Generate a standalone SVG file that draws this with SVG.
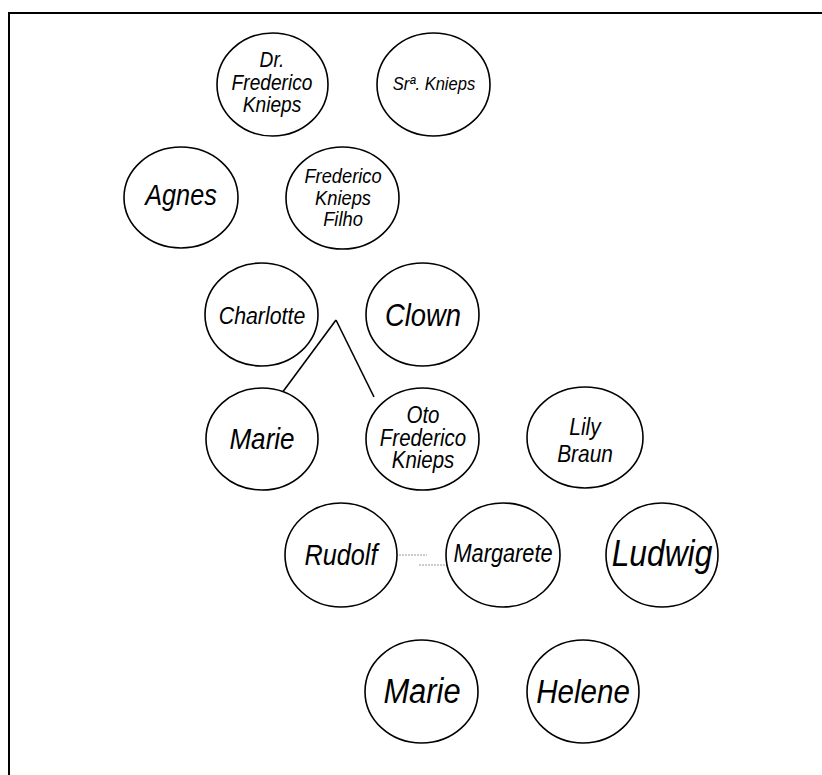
<svg xmlns="http://www.w3.org/2000/svg" width="822" height="775" viewBox="0 0 822 775">
<style>
.n ellipse{fill:#fff;stroke:#000;stroke-width:1.6}
.n text{font-family:"Liberation Sans",Arial,sans-serif;font-style:italic;fill:#000;text-anchor:middle}
.frame{fill:none;stroke:#000;stroke-width:2}
.c line{stroke:#000;stroke-width:1.6}
.c .d{stroke:#999;stroke-width:1;stroke-dasharray:2 1}
</style>
<rect width="822" height="775" fill="#fff"/>
<polyline class="frame" points="9,775 9,13 822,13"/>
<g class="c" id="connectors">
<line x1="336" y1="320" x2="279" y2="397"/>
<line x1="336" y1="320" x2="374" y2="397"/>
<line class="d" x1="396" y1="555" x2="427" y2="555"/>
<line class="d" x1="419" y1="565" x2="448" y2="565"/>
</g>
<g class="n" id="dr-frederico-knieps"><ellipse cx="272.5" cy="84.5" rx="55.5" ry="51.5"/><text transform="translate(272,0) scale(0.87,1)" font-size="22"><tspan x="0" y="67">Dr.</tspan><tspan x="0" y="90">Frederico</tspan><tspan x="0" y="112">Knieps</tspan></text></g>
<g class="n" id="sra-knieps"><ellipse cx="433.5" cy="84.5" rx="56.5" ry="51.5"/><text transform="translate(434,90) scale(0.87,1)" font-size="19">Srª. Knieps</text></g>
<g class="n" id="agnes"><ellipse cx="181" cy="197.5" rx="57" ry="50.5"/><text transform="translate(181,205) scale(0.87,1)" font-size="29">Agnes</text></g>
<g class="n" id="frederico-knieps-filho"><ellipse cx="342.5" cy="198" rx="56.5" ry="51"/><text transform="translate(343,0) scale(0.87,1)" font-size="21"><tspan x="0" y="183">Frederico</tspan><tspan x="0" y="205">Knieps</tspan><tspan x="0" y="226">Filho</tspan></text></g>
<g class="n" id="charlotte"><ellipse cx="261.5" cy="314.5" rx="56.5" ry="51.5"/><text transform="translate(262,324) scale(0.87,1)" font-size="24.5">Charlotte</text></g>
<g class="n" id="clown"><ellipse cx="422.5" cy="314.5" rx="56.5" ry="51.5"/><text transform="translate(423,326) scale(0.87,1)" font-size="31.5">Clown</text></g>
<g class="n" id="marie-1"><ellipse cx="262" cy="439" rx="56" ry="51"/><text transform="translate(262,449) scale(0.87,1)" font-size="30">Marie</text></g>
<g class="n" id="oto-frederico-knieps"><ellipse cx="422.5" cy="439" rx="56.5" ry="51"/><text transform="translate(423,0) scale(0.87,1)" font-size="23.5"><tspan x="0" y="423">Oto</tspan><tspan x="0" y="446">Frederico</tspan><tspan x="0" y="468">Knieps</tspan></text></g>
<g class="n" id="lily-braun"><ellipse cx="585" cy="437.5" rx="58" ry="50.5"/><text transform="translate(585,0) scale(0.87,1)" font-size="24"><tspan x="0" y="435">Lily</tspan><tspan x="0" y="462">Braun</tspan></text></g>
<g class="n" id="rudolf"><ellipse cx="341" cy="555" rx="56" ry="52"/><text transform="translate(341,565) scale(0.87,1)" font-size="29">Rudolf</text></g>
<g class="n" id="margarete"><ellipse cx="503" cy="555" rx="57" ry="52"/><text transform="translate(503,562) scale(0.87,1)" font-size="25">Margarete</text></g>
<g class="n" id="ludwig"><ellipse cx="662" cy="555" rx="56" ry="52"/><text transform="translate(662,566) scale(0.87,1)" font-size="36.5">Ludwig</text></g>
<g class="n" id="marie-2"><ellipse cx="421.5" cy="691.5" rx="56.5" ry="51.5"/><text transform="translate(422,703) scale(0.87,1)" font-size="35.5">Marie</text></g>
<g class="n" id="helene"><ellipse cx="583" cy="691.5" rx="56" ry="51.5"/><text transform="translate(583,703) scale(0.87,1)" font-size="34">Helene</text></g>
</svg>
